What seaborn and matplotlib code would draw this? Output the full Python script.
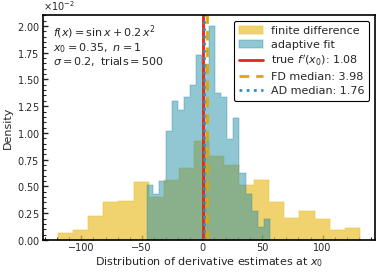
import numpy as np
import pandas as pd
import matplotlib
matplotlib.use("Agg")
import matplotlib.pyplot as plt
import seaborn as sns
from matplotlib.colors import to_rgba
from matplotlib.ticker import AutoMinorLocator

# histogram counts (500 trials each, 20 bins)
fd_range = (-119.3, 130.9)
fd_counts = [4, 6, 14, 22, 23, 34, 25, 35, 42, 58, 49, 44, 32, 35, 22, 13, 17, 12, 6, 7]
ad_range = (-45.5, 56.5)
ad_counts = [13, 11, 14, 26, 33, 31, 34, 37, 44, 42, 51, 35, 34, 24, 29, 16, 11, 7, 3, 5]

true_deriv = 1.08
fd_median = 3.98
ad_median = 1.76

fd_color = "#eabf30"
ad_color = "#258fa9"


def hist_frame(rng, counts):
    edges = np.linspace(rng[0], rng[1], len(counts) + 1)
    centers = (edges[:-1] + edges[1:]) / 2
    return pd.DataFrame({"value": centers, "count": counts})


sns.set_style("ticks")
plt.rcParams["font.family"] = ["DejaVu Sans"]

fig, ax = plt.subplots(figsize=(3.81, 2.72), dpi=100)
fig.subplots_adjust(left=0.113, right=0.984, bottom=0.118, top=0.944)

fd_df = hist_frame(fd_range, fd_counts)
ad_df = hist_frame(ad_range, ad_counts)

for df, rng, col, alpha, name in [(fd_df, fd_range, fd_color, 0.7, "finite difference"),
                                  (ad_df, ad_range, ad_color, 0.5, "adaptive fit")]:
    sns.histplot(data=df, x="value", weights="count", bins=len(df),
                 binrange=rng, stat="density", element="step",
                 color=col, alpha=alpha, linewidth=1.2,
                 label=name, ax=ax)
    poly = ax.collections[-1]
    poly.set_facecolor(to_rgba(col, alpha))
    poly.set_edgecolor(to_rgba(col, alpha * 0.45))
    poly.set_alpha(None)

ax.axvline(true_deriv, color="#e8241b", lw=2,
           label=f"true $f'(x_0)$: {true_deriv:.2f}")
ax.axvline(fd_median, color="#e0a800", lw=2, ls=(0, (3.5, 2.5)),
           label=f"FD median: {fd_median:.2f}")
ax.axvline(ad_median, color="#2f93b8", lw=2, ls=(0, (1, 1.6)),
           label=f"AD median: {ad_median:.2f}")

ax.text(0.03, 0.965,
        "$f(x) = \\sin x + 0.2\\,x^2$\n"
        "$x_0 = 0.35,\\ n = 1$\n"
        "$\\sigma = 0.2,\\ \\mathrm{trials} = 500$",
        transform=ax.transAxes, va="top", ha="left", fontsize=8,
        linespacing=1.05)

ax.set_xlabel("Distribution of derivative estimates at $x_0$", fontsize=8, labelpad=1)
ax.set_ylabel("Density", fontsize=8, labelpad=3)

ax.ticklabel_format(axis="y", style="sci", scilimits=(0, 0), useMathText=True)
ax.yaxis.get_offset_text().set_fontsize(7)
ax.xaxis.set_minor_locator(AutoMinorLocator())
ax.yaxis.set_minor_locator(AutoMinorLocator())
ax.tick_params(which="both", direction="in", labelsize=7, pad=2.5)
ax.tick_params(which="major", length=3.5, width=1)
ax.tick_params(which="minor", length=2, width=0.8)
for sp in ax.spines.values():
    sp.set_linewidth(1.2)
    sp.set_color("black")

handles, labels = ax.get_legend_handles_labels()
order = ["finite difference", "adaptive fit",
         f"true $f'(x_0)$: {true_deriv:.2f}",
         f"FD median: {fd_median:.2f}", f"AD median: {ad_median:.2f}"]
hmap = dict(zip(labels, handles))
leg = ax.legend([hmap[k] for k in order], order, loc="upper right", fontsize=8,
                frameon=True, edgecolor="black", fancybox=True, borderpad=0.45,
                handlelength=2.2, handletextpad=0.7, labelspacing=0.35,
                borderaxespad=0.5)
leg.get_frame().set_linewidth(0.8)
leg.get_frame().set_alpha(1)

fig.savefig("out.png", dpi=100)
